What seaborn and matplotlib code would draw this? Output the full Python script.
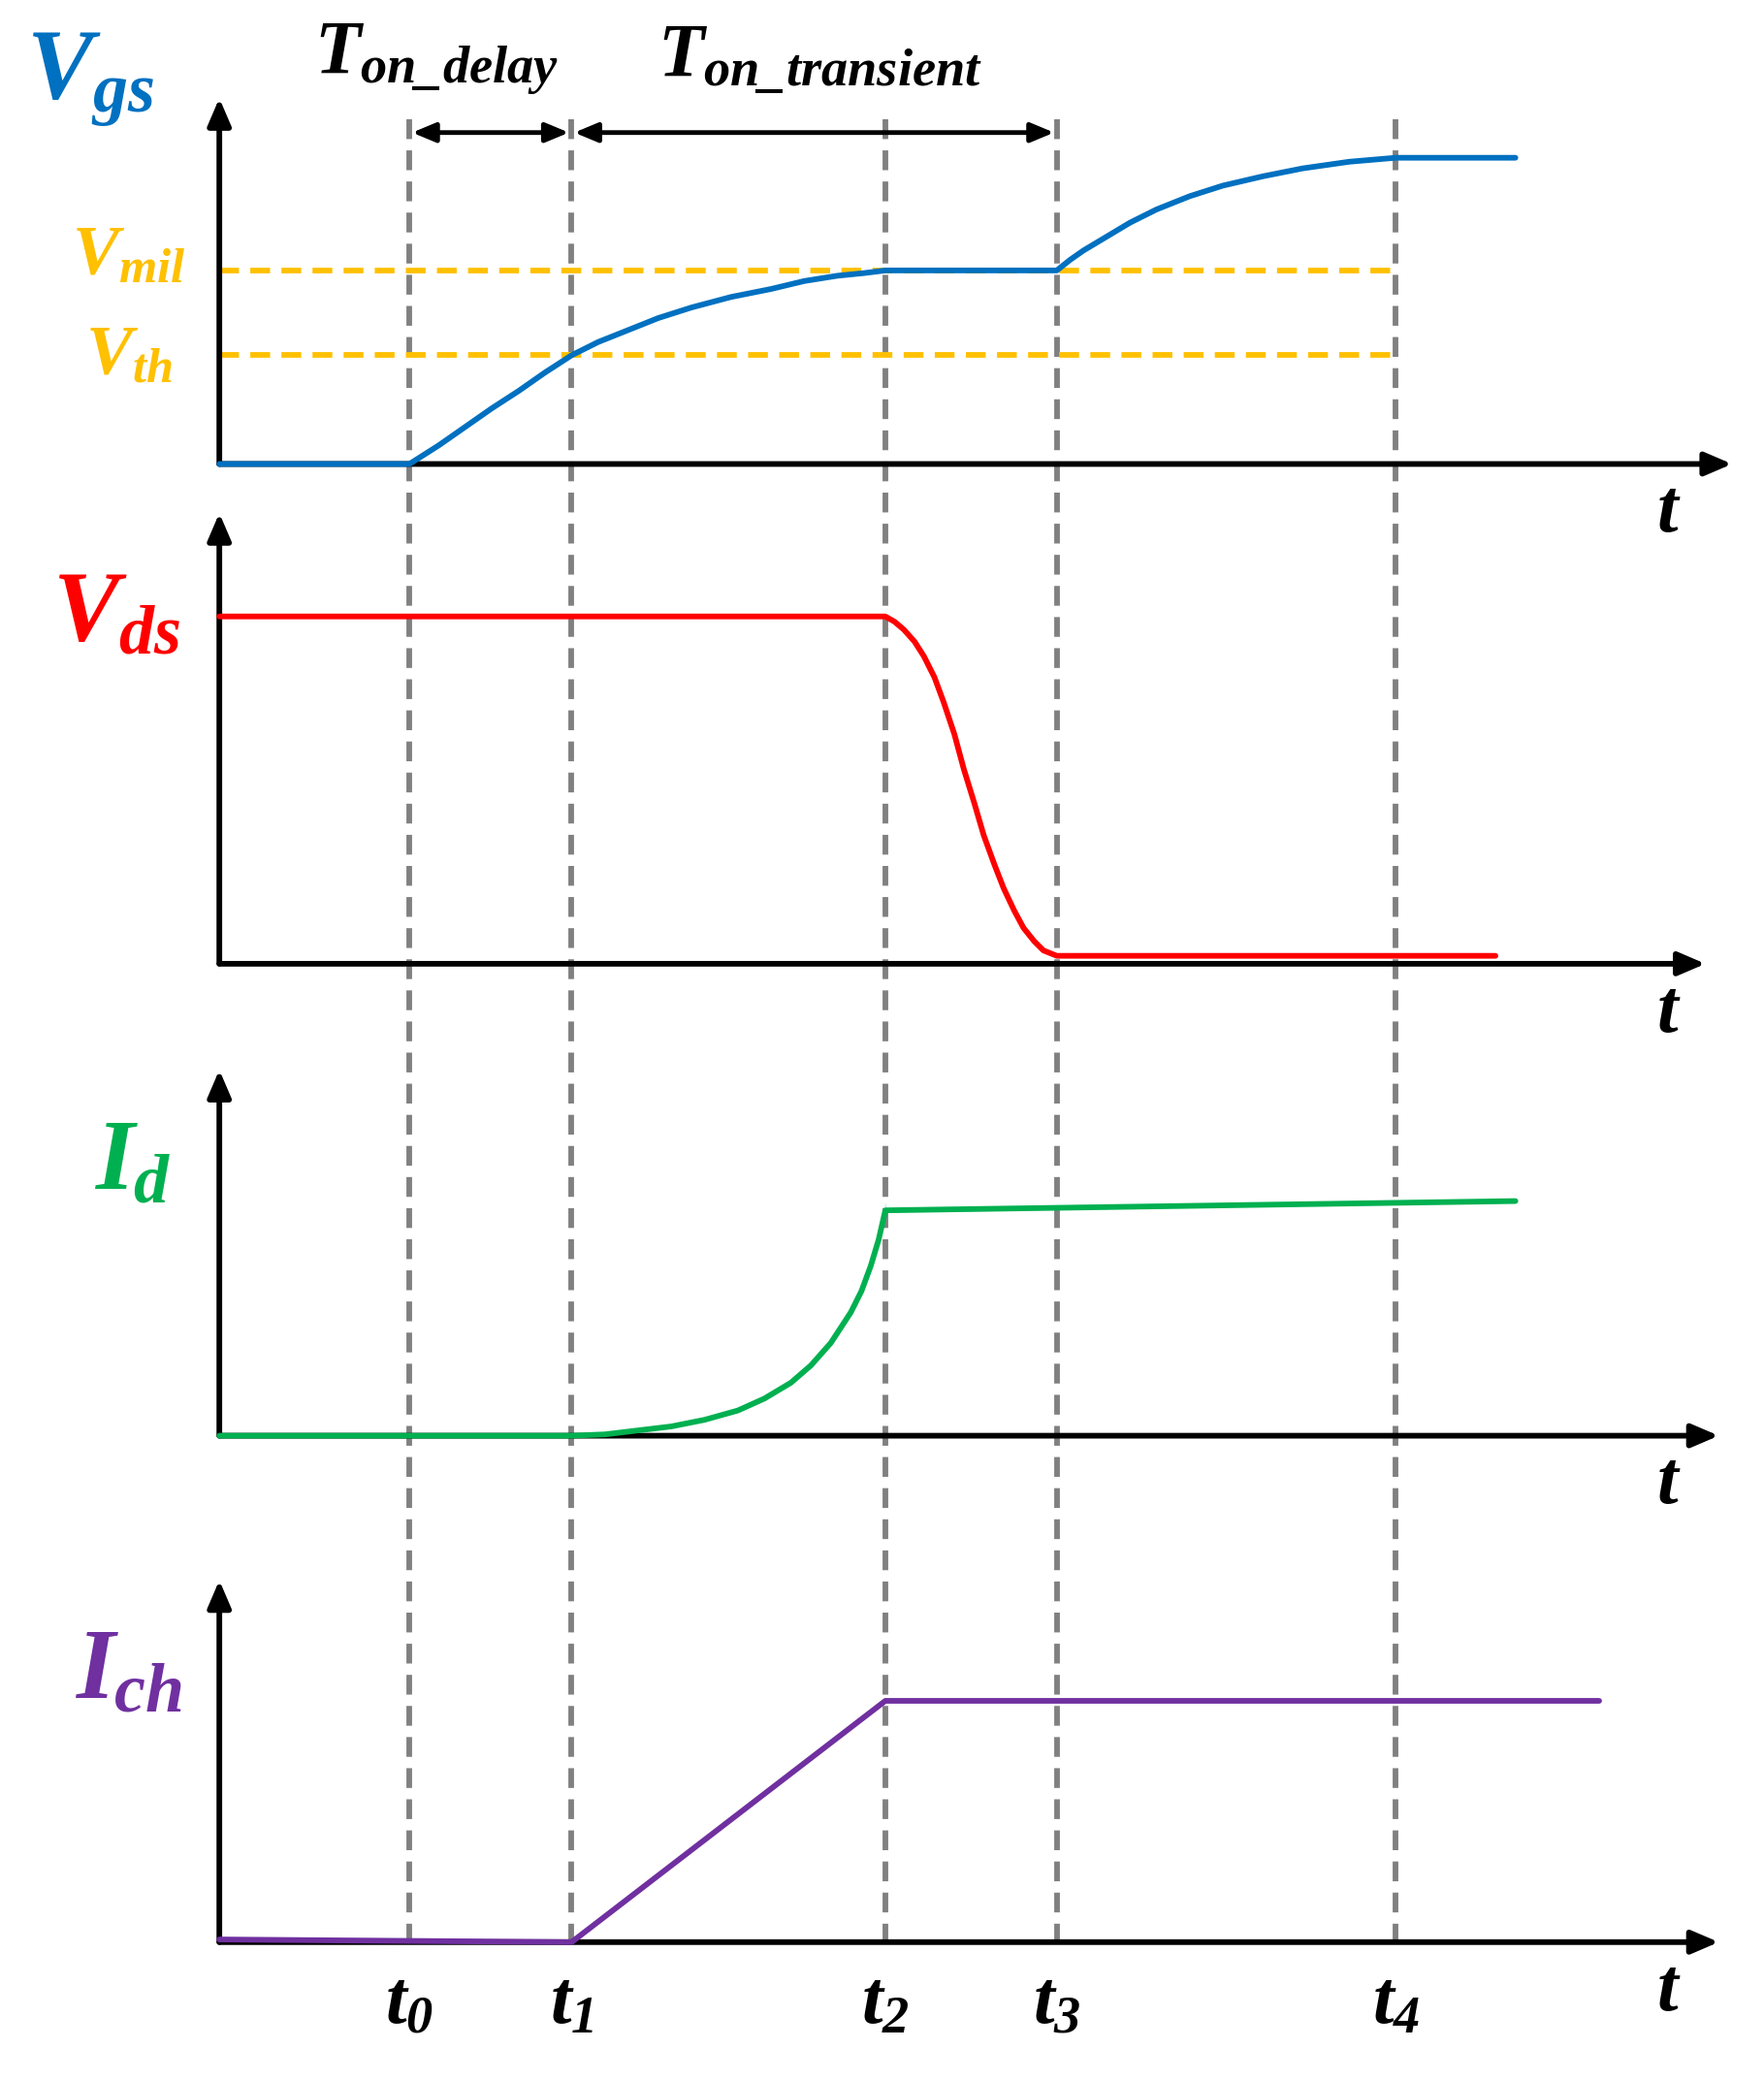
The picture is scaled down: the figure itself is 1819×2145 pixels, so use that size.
import matplotlib
matplotlib.use("Agg")
import matplotlib.pyplot as plt
import seaborn as sns

sns.set_theme(style="white")
plt.rcParams['mathtext.fontset'] = 'custom'
plt.rcParams['mathtext.it'] = 'Liberation Serif:bold:italic'
plt.rcParams['mathtext.rm'] = 'Liberation Serif:bold:italic'
plt.rcParams['mathtext.bf'] = 'Liberation Serif:bold:italic'

# schematic coordinates (reference canvas 1327 x 1569, y grows downward)
x0 = 165
t_names = ["t_0", "t_1", "t_2", "t_3", "t_4"]
t_pos = [308, 430, 666, 795, 1050]

# panel axes: (baseline y, top y, arrow end x)
panel_base = [350, 727, 1083, 1465]
panel_top = [72, 385, 805, 1190]
panel_end = [1305, 1285, 1295, 1295]

vgs_x = [165, 308, 330, 350, 370, 390, 410, 430, 450, 470, 495, 520, 550, 580, 605, 630, 650, 666,
         795, 805, 815, 830, 850, 870, 895, 920, 950, 980, 1015, 1050, 1140]
vgs_y = [350, 350, 336, 322, 308, 295, 281, 268, 258, 250, 240, 232, 224, 218, 212, 208, 206, 204,
         204, 196, 189, 180, 168, 158, 148, 140, 133, 127, 122, 119, 119]
vds_x = [165, 666, 673, 680, 688, 695, 703, 710, 718, 725, 733, 740, 748, 755, 763, 770, 778, 785, 790, 795, 1125]
vds_y = [465, 465, 469, 475, 484, 495, 511, 530, 554, 580, 606, 630, 652, 670, 687, 700, 710, 717, 719, 721, 721]
id_x = [165, 430, 455, 480, 505, 530, 555, 575, 595, 610, 625, 640, 648, 655, 661, 666, 666, 1140]
id_y = [1083, 1083, 1082, 1079, 1076, 1071, 1064, 1055, 1043, 1030, 1013, 990, 974, 955, 935, 918, 908, 906]
ich_x = [165, 430, 666, 1203]
ich_y = [1463, 1465, 1283, 1283]
vmil_y = 204
vth_y = 268

blue, yellow, red, green, purple, gray = "#0070C0", "#FFC000", "#FF0000", "#00B050", "#7030A0", "#808080"

fig = plt.figure(figsize=(18.19, 21.45), dpi=100)
ax = fig.add_axes([0, 0, 1, 1])
ax.set_xlim(0, 1327)
ax.set_ylim(1569, 0)
ax.axis("off")

lw = 4.2
# dashed time markers
for tx in t_pos:
    ax.plot([tx, tx], [90, 1465], color=gray, lw=lw, ls=(0, (3.5, 2)), zorder=1)

# thresholds
ax.plot([x0, t_pos[4]], [vmil_y, vmil_y], color=yellow, lw=lw, ls=(0, (3.5, 2)), zorder=2)
ax.plot([x0, t_pos[4]], [vth_y, vth_y], color=yellow, lw=lw, ls=(0, (3.5, 2)), zorder=2)

# axes with arrows
for yb, yt, xe in zip(panel_base, panel_top, panel_end):
    ax.annotate("", xy=(xe, yb), xytext=(x0 - 2, yb),
                arrowprops=dict(arrowstyle="-|>,head_length=1.4,head_width=0.6", color="black", lw=lw))
    ax.annotate("", xy=(x0, yt), xytext=(x0, yb + 2),
                arrowprops=dict(arrowstyle="-|>,head_length=1.4,head_width=0.6", color="black", lw=lw))
    ax.text(1255, yb + 35, r"$t$", fontsize=56, ha="center", va="center", color="black")

# waveforms
sns.lineplot(x=vgs_x, y=vgs_y, ax=ax, color=blue, lw=lw, sort=False, zorder=3)
sns.lineplot(x=vds_x, y=vds_y, ax=ax, color=red, lw=lw, sort=False, zorder=3)
sns.lineplot(x=id_x, y=id_y, ax=ax, color=green, lw=lw, sort=False, zorder=3)
sns.lineplot(x=ich_x, y=ich_y, ax=ax, color=purple, lw=lw, sort=False, zorder=3)

# labels
ax.text(68, 60, r"$V_{gs}$", fontsize=74, color=blue, ha="center", va="center")
ax.text(97, 192, r"$V_{mil}$", fontsize=52, color=yellow, ha="center", va="center")
ax.text(97, 268, r"$V_{th}$", fontsize=52, color=yellow, ha="center", va="center")
ax.text(88, 462, r"$V_{ds}$", fontsize=74, color=red, ha="center", va="center")
ax.text(100, 876, r"$I_{d}$", fontsize=74, color=green, ha="center", va="center")
ax.text(97, 1260, r"$I_{ch}$", fontsize=74, color=purple, ha="center", va="center")
for name, tx in zip(t_names, t_pos):
    ax.text(tx, 1510, "$" + name + "$", fontsize=56, ha="center", va="center", color="black")

# time interval arrows
ax.annotate("", xy=(t_pos[0], 100), xytext=(t_pos[1], 100),
            arrowprops=dict(arrowstyle="<|-|>,head_length=1.2,head_width=0.5", color="black", lw=3.5))
ax.annotate("", xy=(t_pos[1], 100), xytext=(t_pos[3], 100),
            arrowprops=dict(arrowstyle="<|-|>,head_length=1.2,head_width=0.5", color="black", lw=3.5))
ax.text(328, 45, r"$T_{on\_delay}$", fontsize=56, ha="center", va="center", color="black")
ax.text(617, 45, r"$T_{on\_transient}$", fontsize=56, ha="center", va="center", color="black")

fig.savefig("out.png", dpi=100)
